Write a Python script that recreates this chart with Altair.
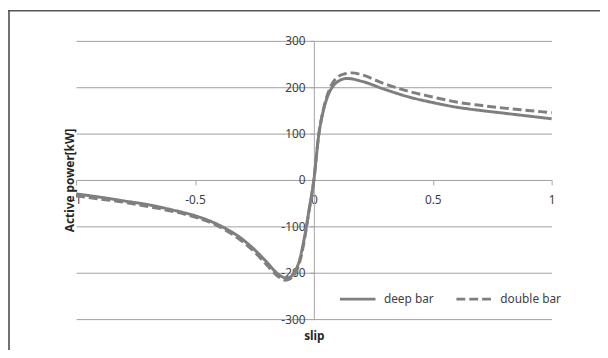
import altair as alt
import pandas as pd

# slip values and active power [kW]
deep_slip = [-1.0, -0.9, -0.8, -0.7, -0.6, -0.5, -0.4, -0.3, -0.25, -0.2, -0.15, -0.12, -0.1,
             -0.08, -0.06, -0.04, -0.02, 0.0, 0.02, 0.04, 0.06, 0.08, 0.1, 0.14, 0.2, 0.3,
             0.4, 0.5, 0.6, 0.7, 0.8, 0.9, 1.0]
deep_power = [-30, -37, -45, -53, -64, -77, -97, -128, -150, -176, -203, -211, -209,
              -198, -172, -125, -64, 0, 95, 150, 183, 202, 212, 219, 213, 195,
              179, 167, 157, 150, 144, 138, 132]

double_slip = [-1.0, -0.9, -0.8, -0.7, -0.6, -0.5, -0.4, -0.3, -0.25, -0.2, -0.15, -0.12, -0.1,
               -0.08, -0.06, -0.04, -0.02, 0.0, 0.02, 0.04, 0.06, 0.08, 0.1, 0.13, 0.16, 0.2,
               0.3, 0.4, 0.5, 0.6, 0.7, 0.8, 0.9, 1.0]
double_power = [-34, -41, -48, -57, -67, -80, -100, -133, -155, -182, -208, -216, -213,
                -203, -178, -130, -66, 0, 96, 152, 188, 210, 222, 229, 231, 227,
                207, 191, 179, 168, 161, 155, 150, 145]

series_names = ["deep bar", "double bar"]
x_ticks = [-1, -0.5, 0, 0.5, 1]
y_ticks = [-300, -200, -100, 0, 100, 200, 300]

rows = []
for s, p in zip(deep_slip, deep_power):
    rows.append({"slip": s, "power": p, "series": series_names[0], "order": len(rows)})
for s, p in zip(double_slip, double_power):
    rows.append({"slip": s, "power": p, "series": series_names[1], "order": len(rows)})
df = pd.DataFrame(rows)

W, H = 482, 282
FONT = "Noto Sans"
GRAY = "#7f7f7f"

legend_cfg = alt.Legend(
    title=None, orient="none", direction="horizontal", legendX=266, legendY=242,
    symbolType="stroke", symbolSize=1296, symbolStrokeWidth=3, symbolStrokeColor=GRAY,
    labelFont=FONT, labelFontSize=12, labelColor="#404040", labelOffset=7,
    columnPadding=16, padding=0,
)

lines = alt.Chart(df).mark_line(strokeWidth=3, interpolate="monotone").encode(
    x=alt.X("slip:Q", scale=alt.Scale(domain=[-1, 1], nice=False),
            axis=alt.Axis(values=x_ticks, offset=-H / 2, grid=False, tickSize=5,
                          labelPadding=10, labelFlush=False, labelOverlap=False,
                          labelExpr="'' + datum.value",
                          domainColor="#a6a6a6", tickColor="#a6a6a6",
                          labelFont=FONT, labelFontSize=12, labelColor="#404040",
                          title="slip", titleFont=FONT, titleFontSize=12,
                          titleFontWeight="bold", titleColor="#262626",
                          titleBaseline="middle", titleY=158)),
    y=alt.Y("power:Q", scale=alt.Scale(domain=[-300, 300], nice=False),
            axis=alt.Axis(values=y_ticks, offset=-W / 2, grid=True, gridColor="#a0a0a0",
                          tickSize=4, labelPadding=5, labelOverlap=False,
                          labelExpr="'' + datum.value",
                          domainColor="#a6a6a6", tickColor="#a6a6a6",
                          labelFont=FONT, labelFontSize=12, labelColor="#404040",
                          title="Active power[kW]", titleFont=FONT, titleFontSize=12,
                          titleFontWeight="bold", titleColor="#262626",
                          titleBaseline="middle", titleX=-W / 2 - 7, titleY=H / 2)),
    color=alt.Color("series:N", scale=alt.Scale(domain=series_names, range=[GRAY, GRAY]),
                    legend=legend_cfg),
    strokeDash=alt.StrokeDash("series:N",
                              scale=alt.Scale(domain=series_names, range=[[1, 0], [9, 4]]),
                              legend=legend_cfg),
    order="order:Q",
)

border_left = alt.Chart(pd.DataFrame({"a": [0]})).mark_rule(color="#707070", strokeWidth=2).encode(
    x=alt.value(-68), y=alt.value(-31), y2=alt.value(H + 40)
)
border_top = alt.Chart(pd.DataFrame({"a": [0]})).mark_rule(color="#555555", strokeWidth=1.5).encode(
    x=alt.value(-69), x2=alt.value(W + 60), y=alt.value(-30.5)
)

chart = alt.layer(lines, border_left, border_top).properties(
    width=W, height=H,
    autosize=alt.AutoSizeParams(type="none"),
    padding={"left": 69, "top": 31, "right": 49, "bottom": 29},
    background="white",
).configure_view(stroke=None)

chart.save("out.html", embed_options={"renderer": "svg", "actions": False})
